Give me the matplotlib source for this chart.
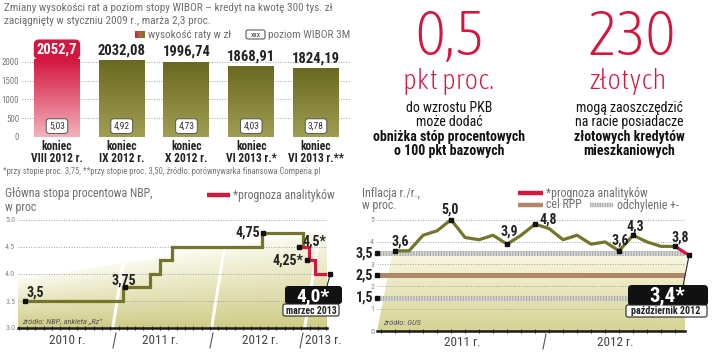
import numpy as np
import matplotlib
matplotlib.use("Agg")
import matplotlib.pyplot as plt
from matplotlib import font_manager as fm
from matplotlib.colors import LinearSegmentedColormap, to_rgb
from matplotlib.patches import FancyBboxPatch, Polygon
from matplotlib.lines import Line2D

# ---------------- data ----------------
bar_categories = ["koniec\nVIII 2012 r.", "koniec\nIX 2012 r.", "koniec\nX 2012 r.",
                  "koniec\nVI 2013 r.*", "koniec\nVI 2013 r.**"]
bar_values = [2052.7, 2032.08, 1996.74, 1868.91, 1824.19]
bar_value_labels = ["2052,7", "2032,08", "1996,74", "1868,91", "1824,19"]
wibor_labels = ["5,03", "4,92", "4,73", "4,03", "3,78"]
bar_yticks = [0, 500, 1000, 1500, 2000]

# NBP reference rate; x = months since 1 Jan 2010
nbp_months = [1.7, 13.5, 16.8, 18.0, 19.4, 30.3, 35.2]
nbp_rates = [3.5, 3.75, 4.0, 4.25, 4.5, 4.75, 4.5]
nbp_fc_months = [35.2, 35.9, 36.6, 38.0]
nbp_fc_rates = [4.5, 4.25, 4.0, 4.0]
nbp_mark_months = [1.7, 13.8, 30.4, 34.7, 35.7, 38.5]
nbp_mark_rates = [3.5, 3.75, 4.75, 4.5, 4.25, 4.0]
nbp_mark_labels = ["3,5", "3,75", "4,75", "4,5*", "4,25*", ""]
nbp_yticks = [3.0, 3.5, 4.0, 4.5, 5.0]
nbp_ytick_labels = ["3.0", "3.5", "4.0", "4.5", "5.0"]
nbp_years = ["2010 r.", "2011 r.", "2012 r.", "2013 r."]

# CPI inflation y/y; x = months since Jan 2011
infl_months = list(range(21))
infl_values = [3.6, 3.6, 4.3, 4.5, 5.0, 4.2, 4.1, 4.3, 3.9, 4.3, 4.8, 4.6,
               4.1, 4.3, 3.9, 4.0, 3.6, 4.3, 4.0, 3.8, 3.8]
infl_fc_months = [20, 21]
infl_fc_values = [3.8, 3.4]
infl_mark_idx = [0, 4, 8, 10, 16, 17, 20]
infl_mark_labels = ["3,6", "5,0", "3,9", "4,8", "3,6", "4,3", "3,8"]
infl_target = 2.5
infl_band = [1.5, 3.5]
infl_band_labels = ["1,5", "3,5"]
infl_target_label = "2,5"
infl_yticks = [0, 1, 2, 3, 4, 5]
infl_years = ["2011 r.", "2012 r."]

# ---------------- fonts ----------------
avail = {f.name for f in fm.fontManager.ttflist}


def pick(*names):
    for n in names:
        if n in avail:
            return n
    return "DejaVu Sans"


NARROW = pick("Liberation Sans Narrow", "DejaVu Sans Condensed", "Roboto Condensed",
              "Liberation Sans")
plt.rcParams["font.family"] = [NARROW, "DejaVu Sans"]


def light_condensed():
    for f in fm.fontManager.ttflist:
        w = f.weight
        if not isinstance(w, (int, float)):
            w = {"thin": 100, "ultralight": 200, "extralight": 200, "light": 300}.get(str(w).lower(), 400)
        nm = f.name.lower()
        cond = ("cond" in nm) or ("narrow" in nm) or str(f.stretch) in ("condensed", "semi-condensed", "extra-condensed")
        if cond and w <= 300 and f.style == "normal":
            return fm.FontProperties(fname=f.fname)
    return None


BIG = light_condensed()
if BIG is None:
    BIG = fm.FontProperties(family=[NARROW, "DejaVu Sans"])

# ---------------- colours ----------------
RED = "#d3173f"
OLIVE = "#74752b"
BROWN = "#b0876b"
GRAY = "#6f6f6f"
DARK = "#222222"
GRID = "#a0a0a0"

W, H = 720, 354
fig = plt.figure(figsize=(W / 100, H / 100), dpi=100)
fig.patch.set_facecolor("white")


def px_axes(x0, y0, x1, y1, z=1):
    return fig.add_axes([x0 / W, 1 - y1 / H, (x1 - x0) / W, (y1 - y0) / H], zorder=z)


def clean(ax):
    for s in ax.spines.values():
        s.set_visible(False)
    ax.patch.set_alpha(0)


def grad_fill(ax, poly, xl, xr, yb, ytl, ytr, c_top, c_bot, z=0.5):
    xs = np.linspace(xl, xr, 200)
    ytop_max = max(ytl, ytr)
    ys = np.linspace(yb, ytop_max, 200)
    X, Y = np.meshgrid(xs, ys)
    top = ytl + (ytr - ytl) * (X - xl) / (xr - xl)
    t = np.clip((Y - yb) / (top - yb), 0, 1)[..., None]
    ct, cb = np.array(to_rgb(c_top)), np.array(to_rgb(c_bot))
    img = cb * (1 - t) + ct * t
    im = ax.imshow(img, extent=(xl, xr, yb, ytop_max), origin="lower", aspect="auto",
                   zorder=z, interpolation="bilinear")
    p = Polygon(poly, closed=True, transform=ax.transData, facecolor="none", edgecolor="none")
    ax.add_patch(p)
    im.set_clip_path(p)


# ======================= bar chart =======================
ax1 = px_axes(22, 45, 350, 137)
clean(ax1)
bw = 0.71
grad = np.linspace(0, 1, 128).reshape(-1, 1)
red_cm = LinearSegmentedColormap.from_list("r", ["#f3b2bc", "#d3173f"])
ol_cm = LinearSegmentedColormap.from_list("o", ["#a09e52", "#6a6921"])
for t in bar_yticks:
    ax1.axhline(t, color=GRID if t else "#777777", lw=0.7, ls=(0, (1, 1.6)), zorder=1)
for i, v in enumerate(bar_values):
    ax1.imshow(grad, extent=(i - bw / 2, i + bw / 2, 0, v), origin="lower",
               cmap=red_cm if i == 0 else ol_cm, aspect="auto", zorder=2,
               interpolation="bilinear")
    if i == 0:
        ax1.text(i, v + 95, bar_value_labels[i], ha="center", va="bottom", color="white",
                 fontsize=10.5, fontweight="bold",
                 bbox=dict(boxstyle="round,pad=0.2,rounding_size=0.35", fc=RED, ec="none"))
    else:
        ax1.text(i, v + 85, bar_value_labels[i], ha="center", va="bottom", color=DARK,
                 fontsize=10.5, fontweight="bold")
    ax1.text(i, 290, wibor_labels[i], ha="center", va="center", color="#333333", fontsize=6.8,
             bbox=dict(boxstyle="round,pad=0.3,rounding_size=0.3", fc="white", ec="#555555", lw=0.7),
             zorder=4)
ax1.set_xlim(-0.54, 4.525)
ax1.set_ylim(0, 2450)
ax1.set_yticks(bar_yticks)
ax1.set_yticklabels([str(t) for t in bar_yticks], color="#777777", fontsize=6.3)
ax1.set_xticks(range(len(bar_categories)))
ax1.set_xticklabels(bar_categories, fontsize=8.3, fontweight="bold", color=DARK, linespacing=0.88)
ax1.tick_params(axis="both", length=0, pad=2)
ax1.tick_params(axis="x", pad=2)

# ======================= NBP chart =======================
ax2 = px_axes(18, 214.6, 327, 328, z=2)
clean(ax2)
ax2.set_xlim(0.9, 38.1)
ax2.set_ylim(3.0, 5.1)
grad_fill(ax2, [(0.9, 3.0), (0.9, 3.9), (38.1, 4.8), (38.1, 3.0)], 0.9, 38.1, 3.0, 3.9, 4.8,
          "#fbfbef", "#cfcc86")
for m in (12.3, 24.2, 35.4):
    ax2.plot([m, m + 2.2], [3.0, 5.1], color="white", lw=2.2, zorder=0.6, solid_capstyle="butt")
for t in nbp_yticks[1:]:
    ax2.axhline(t, color=GRID, lw=0.7, ls=(0, (1, 1.6)), zorder=1)
ax2.plot(nbp_months, nbp_rates, drawstyle="steps-post", color=OLIVE, lw=2.3, zorder=3,
         solid_joinstyle="miter")
ax2.plot(nbp_fc_months, nbp_fc_rates, drawstyle="steps-post", color=RED, lw=2.3, zorder=3,
         solid_joinstyle="miter")
ax2.plot(nbp_mark_months, nbp_mark_rates, ls="none", marker="s", ms=3.2, color="#111111",
         zorder=5, clip_on=False)
nbp_off = [(11, 8, "center"), (-1, 7, "center"), (-3, 1, "right"), (4, 5, "left"),
           (-4, 0, "right"), (0, 0, "center")]
for m, r, lab, (dx, dy, ha) in zip(nbp_mark_months, nbp_mark_rates, nbp_mark_labels, nbp_off):
    if lab:
        ax2.annotate(lab, (m, r), xytext=(dx * 0.72, dy * 0.72), textcoords="offset points",
                     ha=ha, va="center", fontsize=10, fontweight="bold", color=DARK, zorder=6)
ax2.set_yticks(nbp_yticks)
ax2.set_yticklabels(nbp_ytick_labels, color="#888888", fontsize=5.8)
ax2.tick_params(axis="y", length=0, pad=2)
ax2.spines["bottom"].set_visible(True)
ax2.spines["bottom"].set_color("#1a1a1a")
ax2.spines["bottom"].set_linewidth(1.8)
ax2.set_xticks(np.arange(1, 39))
ax2.set_xticklabels([])
ax2.tick_params(axis="x", direction="inout", length=3.5, width=0.8, color="#333333")
ax2.text(0.012, 0.06, "źródło: NBP, ankieta „Rz”", transform=ax2.transAxes, fontsize=6,
         style="italic", color="#555555", va="center", zorder=4)
ax2.annotate("", xy=(38.5, 4.0), xycoords="data", xytext=(327 / W, 1 - 286 / H),
             textcoords="figure fraction",
             arrowprops=dict(arrowstyle="-", lw=0.8, color="#222222", shrinkA=0, shrinkB=2),
             annotation_clip=False)

# ======================= inflation chart =======================
ax3 = px_axes(377, 213, 685, 331, z=2)
clean(ax3)
ax3.set_xlim(-1.29, 20.71)
ax3.set_ylim(0, 5.3)
grad_fill(ax3, [(-1.29, 0), (-0.2, 3.45), (20.71, 3.38), (20.71, 0)], -1.29, 20.71, 0, 3.45, 3.38,
          "#f8f6de", "#d6d393")
for t in infl_yticks[1:]:
    ax3.axhline(t, color=GRID, lw=0.7, ls=(0, (1, 1.6)), zorder=1)
for b in infl_band:
    ax3.axhline(b, color="#d8d8d8", lw=3.6, zorder=1.5, solid_capstyle="butt")
    ax3.axhline(b, color="#acacac", lw=3.6, ls=(0, (0.25, 0.3)), zorder=1.6)
ax3.axhline(infl_target, color=BROWN, lw=3.6, zorder=1.5, solid_capstyle="butt")
ax3.plot(infl_months, infl_values, color=OLIVE, lw=2.3, zorder=3, solid_joinstyle="round")
ax3.plot(infl_fc_months, infl_fc_values, color=RED, lw=2.3, zorder=3, clip_on=False)
mx = [infl_months[i] for i in infl_mark_idx] + [infl_fc_months[-1]]
my = [infl_values[i] for i in infl_mark_idx] + [infl_fc_values[-1]]
ax3.plot(mx, my, ls="none", marker="s", ms=3.2, color="#111111", zorder=5, clip_on=False)
infl_off = [(5, 9), (-1, 10), (2, 13), (13, 5), (1, 10), (2, 9), (5, 9)]
for i, lab, (dx, dy) in zip(infl_mark_idx, infl_mark_labels, infl_off):
    ax3.annotate(lab, (infl_months[i], infl_values[i]), xytext=(dx * 0.72, dy * 0.72),
                 textcoords="offset points", ha="center", va="center", fontsize=10,
                 fontweight="bold", color=DARK, zorder=6)
# bold level labels at left edge
for v, lab in zip([infl_band[1], infl_target, infl_band[0]],
                  [infl_band_labels[1], infl_target_label, infl_band_labels[0]]):
    ax3.plot([-1.29], [v], ls="none", marker="s", ms=3.2, color="#111111", clip_on=False, zorder=5)
    ax3.annotate(lab, (-1.29, v), xytext=(-4 * 0.72, 0), textcoords="offset points",
                 ha="right", va="center", fontsize=10, fontweight="bold", color=DARK)
ax3.set_yticks(infl_yticks)
ax3.set_yticklabels([str(t) for t in infl_yticks], color="#888888", fontsize=5.8)
ax3.tick_params(axis="y", length=0, pad=2)
ax3.spines["bottom"].set_visible(True)
ax3.spines["bottom"].set_color("#1a1a1a")
ax3.spines["bottom"].set_linewidth(1.8)
ax3.set_xticks(np.arange(-1, 21))
ax3.set_xticklabels([])
ax3.tick_params(axis="x", direction="inout", length=3.5, width=0.8, color="#333333")
ax3.text(0.02, 0.07, "źródło: GUS", transform=ax3.transAxes, fontsize=6, style="italic",
         color="#555555", va="center", zorder=4)
ax3.annotate("", xy=(infl_fc_months[-1], infl_fc_values[-1]), xycoords="data",
             xytext=(683 / W, 1 - 286 / H), textcoords="figure fraction",
             arrowprops=dict(arrowstyle="-", lw=0.8, color="#222222", shrinkA=0, shrinkB=2),
             annotation_clip=False)

# ======================= overlay (texts & decorations) =======================
ov = fig.add_axes([0, 0, 1, 1], zorder=10)
ov.patch.set_alpha(0)


def T(x, y, s, size, color=GRAY, weight="normal", ha="left", va="center", **kw):
    ov.text(x, y, s, fontsize=size, color=color, fontweight=weight, ha=ha, va=va, **kw)


# top-left titles
T(4, 8, "Zmiany wysokości rat a poziom stopy WIBOR – kredyt na kwotę 300 tys. zł", 8.1)
T(4, 21, "zaciągnięty w styczniu 2009 r., marża 2,3 proc.", 8.1)
sw = np.linspace(0, 1, 64).reshape(1, -1)
ov.imshow(sw, extent=(135, 145, 38, 31), cmap=LinearSegmentedColormap.from_list(
    "s", ["#d3173f", "#b06a3a", "#74752b"]), aspect="auto", zorder=3)
T(148, 34.5, "wysokość raty w zł", 8.1)
ov.add_patch(FancyBboxPatch((246, 30), 19, 9, boxstyle="round,pad=0,rounding_size=2",
                            fc="white", ec="#444444", lw=0.7))
T(255.5, 34.6, "xxx", 5.5, color="#333333", ha="center")
T(268, 34.5, "poziom WIBOR 3M", 8.1)
T(3, 171, "*przy stopie proc. 3,75, **przy stopie proc. 3,50, źródło: porównywarka finansowa Comperia.pl",
  6.2, color="#777777")

# top-right big numbers
ov.text(450, 55, "0,5", fontproperties=BIG, fontsize=45, color=RED, ha="center", va="baseline")
ov.text(632, 55, "230", fontproperties=BIG, fontsize=45, color=RED, ha="center", va="baseline")
ov.text(449, 89, "pkt proc.", fontproperties=BIG, fontsize=21, color=RED, ha="center", va="baseline")
ov.text(628, 89, "złotych", fontproperties=BIG, fontsize=21, color=RED, ha="center", va="baseline")
for y, s, w in [(108, "do wzrostu PKB", "normal"), (122, "może dodać", "normal"),
                (137, "obniżka stóp procentowych", "bold"), (151, "o 100 pkt bazowych", "bold")]:
    T(449, y, s, 10, color="#111111", weight=w, ha="center")
for y, s, w in [(108, "mogą zaoszczędzić", "normal"), (122, "na racie posiadacze", "normal"),
                (137, "złotowych kredytów", "bold"), (151, "mieszkaniowych", "bold")]:
    T(629, y, s, 10, color="#111111", weight=w, ha="center")

# NBP titles / legend
T(5, 194, "Główna stopa procentowa NBP,", 8.6)
T(5, 207, "w proc", 8.6)
ov.add_line(Line2D([207, 230], [195, 195], color=RED, lw=3.2, solid_capstyle="butt"))
T(233, 195, "*prognoza analityków", 8.6)
for x, s in zip([67, 160, 260, 323], nbp_years):
    T(x, 340, s, 9.5, color="#444444", ha="center")
for x in (113, 210, 300):
    ov.add_line(Line2D([x, x + 3], [348, 333], color="#555555", lw=0.8))

# NBP callout
ov.add_patch(FancyBboxPatch((285, 286), 57, 18, boxstyle="round,pad=0,rounding_size=3",
                            fc="#111111", ec="none", zorder=4))
ov.add_patch(FancyBboxPatch((283, 304), 56, 12, boxstyle="round,pad=0,rounding_size=2",
                            fc="white", ec="#222222", lw=0.8, zorder=4))
T(313, 296, "4,0*", 14, color="white", weight="bold", ha="center", zorder=5)
T(311, 310.5, "marzec 2013", 7, color=DARK, weight="bold", ha="center", zorder=5)

# inflation titles / legend
T(362, 193, "Inflacja r./r.,", 8.6)
T(362, 206, "w proc.", 8.6)
ov.add_line(Line2D([518, 543], [193, 193], color=RED, lw=3.2, solid_capstyle="butt"))
T(546, 193, "*prognoza analityków", 8.6)
ov.add_line(Line2D([518, 543], [205, 205], color=BROWN, lw=3.2, solid_capstyle="butt"))
T(546, 205, "cel RPP", 8.6)
ov.add_line(Line2D([590, 613], [205, 205], color="#d8d8d8", lw=3.2, solid_capstyle="butt"))
ov.add_line(Line2D([590, 613], [205, 205], color="#acacac", lw=3.2, ls=(0, (0.25, 0.3))))
T(617, 205, "odchylenie +-", 8.6)
for x, s in zip([462, 615], infl_years):
    T(x, 343, s, 9.5, color="#444444", ha="center")
ov.add_line(Line2D([543, 546], [349, 334], color="#555555", lw=0.8))

# inflation callout
ov.add_patch(FancyBboxPatch((628, 285), 80, 21, boxstyle="round,pad=0,rounding_size=4",
                            fc="#111111", ec="none", zorder=4))
ov.add_patch(FancyBboxPatch((626, 305), 81, 12, boxstyle="round,pad=0,rounding_size=2",
                            fc="white", ec="#222222", lw=0.8, zorder=4))
T(667, 296, "3,4*", 15, color="white", weight="bold", ha="center", zorder=5)
T(666, 311, "październik 2012", 7.2, color=DARK, weight="bold", ha="center", zorder=5)

ov.set_xlim(0, W)
ov.set_ylim(H, 0)
ov.axis("off")

fig.savefig("out.png", dpi=100, facecolor="white")
